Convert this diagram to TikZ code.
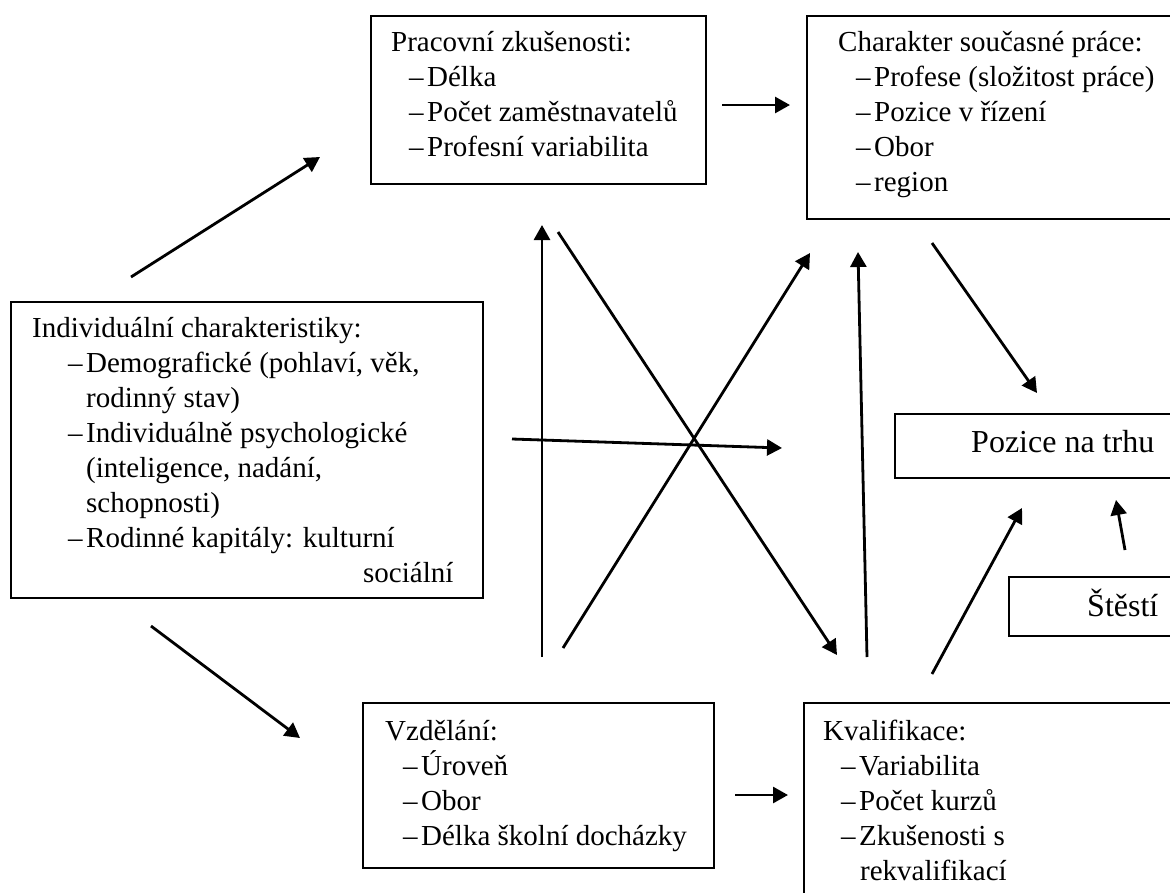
\documentclass[tikz,border=0pt]{standalone}
\usepackage{fontspec}
\setmainfont{Liberation Serif}
\usetikzlibrary{arrows.meta,calc}

\newcommand{\itm}[1][18pt]{\hspace*{#1}\makebox[18pt][l]{\textendash}}

\begin{document}
\begin{tikzpicture}[
  x=1pt, y=-1pt,
  panel/.style={draw, line width=1.5pt, anchor=north west, inner sep=0pt},
  panel-text/.style={anchor=base west, inner sep=0pt, font=\fontsize{29}{35}\selectfont},
  big-text/.style={panel-text, font=\fontsize{32}{38}\selectfont},
  link/.style={line width=2.8pt, -{Triangle[length=15pt,width=16pt]}}
]
  \useasboundingbox (0,0) rectangle (1170,892);
  \fill[white] (0,0) rectangle (1170,892);

  % boxes
  \node (indiv)  [panel, minimum width=472pt, minimum height=296pt] at (10,301) {};
  \node (work)   [panel, minimum width=335pt, minimum height=168pt] at (370,15) {};
  \node (job)    [panel, minimum width=380pt, minimum height=203pt] at (806,15) {};
  \node (market) [panel, minimum width=300pt, minimum height=64pt] at (894,413) {};
  \node (luck)   [panel, minimum width=180pt, minimum height=59pt] at (1008,576) {};
  \node (edu)    [panel, minimum width=351pt, minimum height=165pt] at (362,702) {};
  \node (qual)   [panel, minimum width=380pt, minimum height=200pt] at (803,702) {};

  % texts
  \node (indiv-text) [panel-text] at ($(indiv.north west)+(22,36)$) {\begin{tabular}[t]{@{}l@{}}
    Individuální charakteristiky:\\
    \itm[36pt]Demografické (pohlaví, věk,\\
    \hspace*{54pt}rodinný stav)\\
    \itm[36pt]Individuálně psychologické\\
    \hspace*{54pt}(inteligence, nadání,\\
    \hspace*{54pt}schopnosti)\\
    \itm[36pt]Rodinné kapitály: kulturní\\
    \hspace*{331pt}sociální
  \end{tabular}};
  \node (work-text) [panel-text] at ($(work.north west)+(21,36)$) {\begin{tabular}[t]{@{}l@{}}
    Pracovní zkušenosti:\\
    \itm Délka\\
    \itm Počet zaměstnavatelů\\
    \itm Profesní variabilita
  \end{tabular}};
  \node (job-text) [panel-text] at ($(job.north west)+(32,36)$) {\begin{tabular}[t]{@{}l@{}}
    Charakter současné práce:\\
    \itm Profese (složitost práce)\\
    \itm Pozice v řízení\\
    \itm Obor\\
    \itm region
  \end{tabular}};
  \node (market-text) [big-text] at ($(market.north west)+(77,39)$) {Pozice na trhu};
  \node (luck-text) [big-text] at ($(luck.north west)+(79,40)$) {Štěstí};
  \node (edu-text) [panel-text] at ($(edu.north west)+(23,38)$) {\begin{tabular}[t]{@{}l@{}}
    Vzdělání:\\
    \itm Úroveň\\
    \itm Obor\\
    \itm Délka školní docházky
  \end{tabular}};
  \node (qual-text) [panel-text] at ($(qual.north west)+(20,38)$) {\begin{tabular}[t]{@{}l@{}}
    Kvalifikace:\\
    \itm Variabilita\\
    \itm Počet kurzů\\
    \itm Zkušenosti s\\
    \hspace*{37pt}rekvalifikací
  \end{tabular}};

  % arrow ends
  \coordinate (i2w-s) at (131,277);  \coordinate (i2w-e) at (320,157);
  \coordinate (i2e-s) at (151,626);  \coordinate (i2e-e) at (300,738);
  \coordinate (w2j-s) at (722,105);  \coordinate (w2j-e) at (790,105);
  \coordinate (e2q-s) at (735,795);  \coordinate (e2q-e) at (788,795);
  \coordinate (e2w-s) at (542,657);  \coordinate (e2w-e) at (542,225);
  \coordinate (w2q-s) at (558,232);  \coordinate (w2q-e) at (837,655);
  \coordinate (e2j-s) at (563,648);  \coordinate (e2j-e) at (810,253);
  \coordinate (i2m-s) at (512,439);  \coordinate (i2m-e) at (782,448);
  \coordinate (q2j-s) at (867,657);  \coordinate (q2j-e) at (858,252);
  \coordinate (j2m-s) at (932,243);  \coordinate (j2m-e) at (1037,393);
  \coordinate (q2m-s) at (932,674);  \coordinate (q2m-e) at (1022,508);
  \coordinate (l2m-s) at (1125,550); \coordinate (l2m-e) at (1116,500);

  \draw[link] (i2w-s) -- (i2w-e);
  \draw[link] (i2e-s) -- (i2e-e);
  \draw[link] (w2j-s) -- (w2j-e);
  \draw[link] (e2q-s) -- (e2q-e);
  \draw[link] (e2w-s) -- (e2w-e);
  \draw[link] (w2q-s) -- (w2q-e);
  \draw[link] (e2j-s) -- (e2j-e);
  \draw[link] (i2m-s) -- (i2m-e);
  \draw[link] (q2j-s) -- (q2j-e);
  \draw[link] (j2m-s) -- (j2m-e);
  \draw[link] (q2m-s) -- (q2m-e);
  \draw[link] (l2m-s) -- (l2m-e);
\end{tikzpicture}
\end{document}
